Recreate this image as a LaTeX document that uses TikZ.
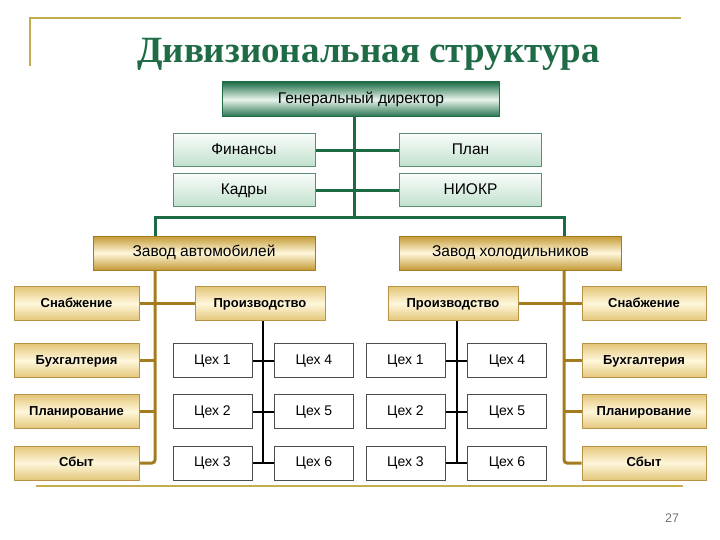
\documentclass[tikz,border=0pt]{standalone}
\usepackage{fontspec}
\setmainfont{Liberation Sans}
\newfontfamily\titlefont{Liberation Serif}
\definecolor{ttlgreen}{HTML}{1E6B45}
\definecolor{lngreen}{HTML}{1B6A43}
\definecolor{dkgreen}{HTML}{1F6E48}
\definecolor{ltgreen}{HTML}{E8F4EC}
\definecolor{mint}{HTML}{BFE0CB}
\definecolor{mintbd}{HTML}{5C8E74}
\definecolor{gold}{HTML}{A47B1E}
\definecolor{golddk}{HTML}{C39A35}
\definecolor{goldlt}{HTML}{FFF7DC}
\definecolor{goldsm}{HTML}{E3C678}
\definecolor{goldbd}{HTML}{B89448}
\definecolor{frame}{HTML}{C2AE4E}
\tikzset{
  capc/.style={text height=0.72em,text depth=0pt},
  gdbox/.style={capc,draw=dkgreen,line width=1pt,top color=dkgreen,bottom color=dkgreen,middle color=ltgreen,
    minimum width=277pt,minimum height=35pt,inner sep=0pt,font=\fontsize{15.5}{18}\selectfont},
  grbox/.style={capc,draw=mintbd,line width=1pt,top color=white!90!mint,bottom color=mint,
    minimum width=142pt,minimum height=33pt,inner sep=0pt,font=\fontsize{15.5}{18}\selectfont},
  zbox/.style={capc,draw=gold,line width=1pt,top color=golddk,bottom color=golddk,middle color=goldlt,
    minimum width=222pt,minimum height=34pt,inner sep=0pt,font=\fontsize{15.5}{18}\selectfont},
  sbox/.style={capc,draw=goldbd,line width=1pt,top color=goldsm,bottom color=goldsm,middle color=goldlt,
    minimum height=34pt,inner sep=0pt,font=\fontsize{13}{15}\selectfont\bfseries},
  cbox/.style={capc,draw=black!70,line width=1pt,fill=white,minimum width=79pt,minimum height=34pt,
    inner sep=0pt,font=\fontsize{14}{16}\selectfont},
  gline/.style={draw=lngreen,line width=3pt},
  oline/.style={draw=gold,line width=3pt},
  kline/.style={draw=black,line width=2pt},
}
\begin{document}
\begin{tikzpicture}[x=1pt,y=-1pt]
\useasboundingbox (0,0) rectangle (720,540);
% frame decorations
\draw[frame,line width=2pt] (30,66) -- (30,18) -- (681,18);
\draw[frame,line width=2pt] (36,486) -- (683,486);
\node[anchor=base,text=ttlgreen,font=\titlefont\bfseries\fontsize{37}{44}\selectfont] (title) at (368.5,63) {Дивизиональная структура};
\node[text=black!55,font=\fontsize{12.5}{14}\selectfont] (pnum) at (672,518) {27};
% top level
\node[gdbox] (gd) at (361,99.5) {Генеральный директор};
\node[grbox] (fin) at (244,150.5) {Финансы};
\node[grbox] (kad) at (244,190.5) {Кадры};
\node[grbox] (plan) at (470.5,150.5) {План};
\node[grbox] (niokr) at (470.5,190.5) {НИОКР};
\coordinate (tr) at (354,218);
\coordinate (barL) at (155,218);
\coordinate (barR) at (564,218);
% factories
\node[zbox] (za) at (204,253) {Завод автомобилей};
\node[zbox] (zh) at (510.5,253) {Завод холодильников};
% green connectors
\draw[gline] (gd.south -| tr) -- (tr);
\draw[gline] (fin.east) -- (plan.west);
\draw[gline] (kad.east) -- (niokr.west);
\draw[gline] (barL |- za.north) -- (barL) -- (barR) -- (barR |- zh.north);
% left division
\node[sbox,minimum width=125pt] (snL) at (76.5,303.5) {Снабжение};
\node[sbox,minimum width=130pt] (prL) at (260,303.5) {Производство};
\node[sbox,minimum width=125pt] (buhL) at (76.5,360.5) {Бухгалтерия};
\node[sbox,minimum width=125pt] (plL) at (76.5,411.5) {Планирование};
\node[sbox,minimum width=125pt] (sbL) at (76.5,463) {Сбыт};
\coordinate (lt) at (155,0);
\draw[oline,rounded corners=3pt] (za.south -| lt) -- (lt |- sbL.east) -- (sbL.east);
\draw[oline] (snL.east) -- (prL.west);
\draw[oline] (buhL.east) -- (buhL.east -| lt);
\draw[oline] (plL.east) -- (plL.east -| lt);
% right division
\node[sbox,minimum width=130pt] (prR) at (453,303.5) {Производство};
\node[sbox,minimum width=124pt] (snR) at (644,303.5) {Снабжение};
\node[sbox,minimum width=124pt] (buhR) at (644,360.5) {Бухгалтерия};
\node[sbox,minimum width=124pt] (plR) at (644,411.5) {Планирование};
\node[sbox,minimum width=124pt] (sbR) at (644,463) {Сбыт};
\coordinate (rt) at (564,0);
\draw[oline,rounded corners=3pt] (zh.south -| rt) -- (rt |- sbR.west) -- (sbR.west);
\draw[oline] (prR.east) -- (snR.west);
\draw[oline] (buhR.west) -- (buhR.west -| rt);
\draw[oline] (plR.west) -- (plR.west -| rt);
% workshops left
\node[cbox] (c1L) at (212.5,360.5) {Цех 1};
\node[cbox] (c2L) at (212.5,411.5) {Цех 2};
\node[cbox] (c3L) at (212.5,463) {Цех 3};
\node[cbox] (c4L) at (314,360.5) {Цех 4};
\node[cbox] (c5L) at (314,411.5) {Цех 5};
\node[cbox] (c6L) at (314,463) {Цех 6};
\coordinate (lk) at (263,0);
\draw[kline] (prL.south -| lk) -- (lk |- c3L.east);
\draw[kline] (c1L.east) -- (c4L.west);
\draw[kline] (c2L.east) -- (c5L.west);
\draw[kline] (c3L.east) -- (c6L.west);
% workshops right
\node[cbox] (c1R) at (405.5,360.5) {Цех 1};
\node[cbox] (c2R) at (405.5,411.5) {Цех 2};
\node[cbox] (c3R) at (405.5,463) {Цех 3};
\node[cbox] (c4R) at (507,360.5) {Цех 4};
\node[cbox] (c5R) at (507,411.5) {Цех 5};
\node[cbox] (c6R) at (507,463) {Цех 6};
\coordinate (rk) at (457,0);
\draw[kline] (prR.south -| rk) -- (rk |- c3R.east);
\draw[kline] (c1R.east) -- (c4R.west);
\draw[kline] (c2R.east) -- (c5R.west);
\draw[kline] (c3R.east) -- (c6R.west);
\end{tikzpicture}
\end{document}
